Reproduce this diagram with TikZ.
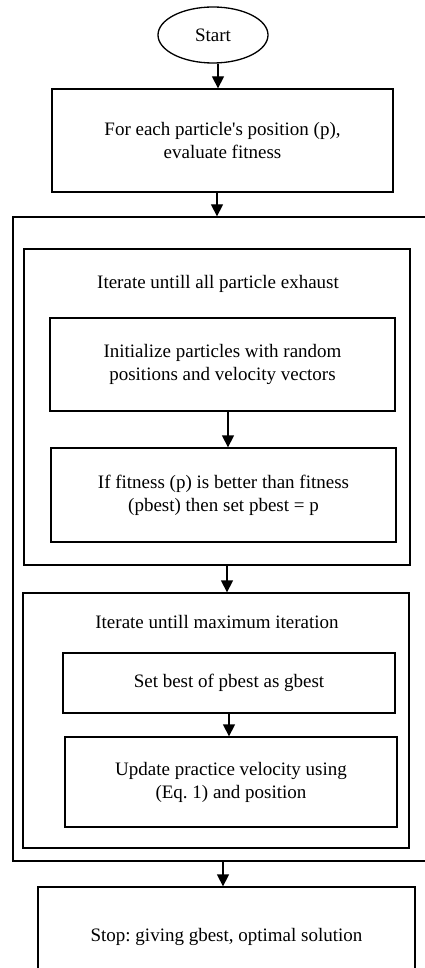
\documentclass[tikz,border=0pt]{standalone}
\usepackage{fontspec}
\setmainfont{Liberation Serif}
\usetikzlibrary{arrows.meta,shapes.geometric}
\frenchspacing

\tikzset{
  box/.style={draw, line width=1.3pt, align=center, font=\fontsize{19}{23}\selectfont},
  frame/.style={draw, line width=1.3pt},
  title/.style={font=\fontsize{19}{23}\selectfont},
  arr/.style={-{Triangle[width=12pt,length=12pt]}, line width=1.3pt}
}

\begin{document}
\begin{tikzpicture}[x=1pt, y=-1pt]
    \path[use as bounding box, clip] (0,0) rectangle (425,968);
    % outer loop and inner loops
    \node[frame, minimum width=420pt, minimum height=644pt] (outer) at (223,539) {};
    \node[frame, minimum width=386pt, minimum height=316pt] (loopA) at (217,407) {};
    \node[frame, minimum width=386pt, minimum height=255pt] (loopB) at (216,720.5) {};
    \node[title] (titleA) at (218,284) {Iterate untill all particle exhaust};
    \node[title] (titleB) at (217,622) {Iterate untill maximum iteration};
    % steps
    \node[box, ellipse, minimum width=110pt, minimum height=56pt] (start) at (213,35) {Start};
    \node[box, minimum width=341pt, minimum height=103pt] (eval) at (222.5,140.5) {For each particle\textquotesingle s position (p),\\ evaluate fitness};
    \node[box, minimum width=345pt, minimum height=93pt] (init) at (222.5,364.5) {Initialize particles with random\\ positions and velocity vectors};
    \node[box, minimum width=345pt, minimum height=94pt] (fit) at (223.5,495) {If fitness (p) is better than fitness\\ (pbest) then set pbest = p};
    \node[box, minimum width=332pt, minimum height=60pt] (setbest) at (229,683) {Set best of pbest as gbest};
    \node[box, minimum width=332pt, minimum height=90pt] (update) at (231,782) {Update practice velocity using\\ (Eq. 1) and position};
    \node[box, minimum width=377pt, minimum height=100pt] (stop) at (226.5,937) {Stop: giving gbest, optimal solution};
    % arrows
    \draw[arr] ([xshift=5pt]start.south) -- ([xshift=5pt]start.south |- eval.north);
    \draw[arr] ([xshift=-5.5pt]eval.south) -- ([xshift=-5.5pt]eval.south |- outer.north);
    \draw[arr] ([xshift=5.5pt]init.south) -- ([xshift=5.5pt]init.south |- fit.north);
    \draw[arr] ([xshift=10pt]loopA.south) -- ([xshift=10pt]loopA.south |- loopB.north);
    \draw[arr] (setbest.south) -- (setbest.south |- update.north);
    \draw[arr] (outer.south) -- (outer.south |- stop.north);
\end{tikzpicture}
\end{document}
